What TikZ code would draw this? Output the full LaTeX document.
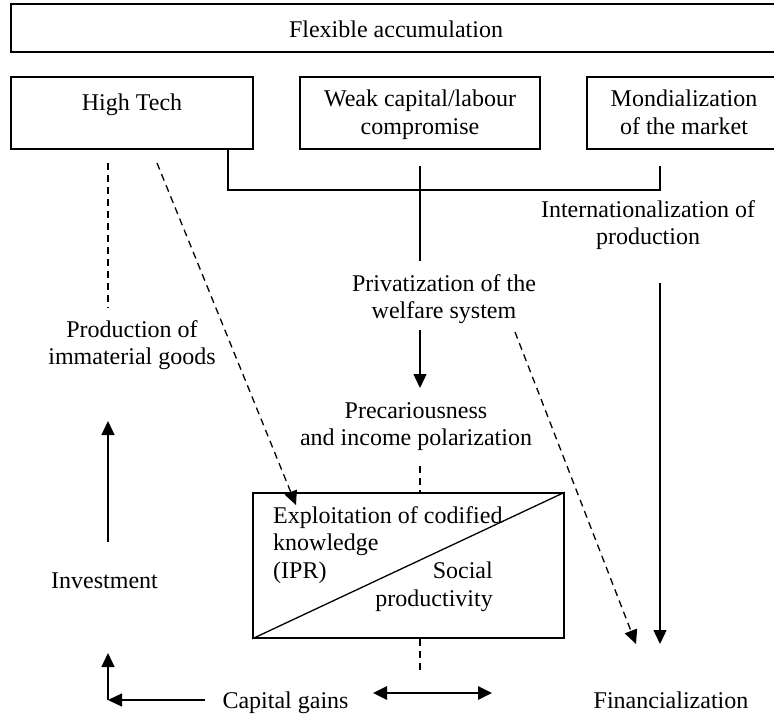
\documentclass[tikz,border=0pt]{standalone}
\usepackage{fontspec}
\setmainfont{Liberation Serif}
\usetikzlibrary{arrows.meta}
\newcommand{\lstrut}{\rule[-7.5pt]{0pt}{27.5pt}}
\tikzset{
	frame/.style={draw, line width=1.6pt, inner sep=0pt},
	txt/.style={inner sep=0pt, font=\fontsize{24}{27.5}\selectfont, execute at begin node=\lstrut, execute at end node=\lstrut},
	link/.style={line width=1.3pt},
	dash link/.style={line width=1.3pt, dash pattern=on 7pt off 5pt},
	headed/.style={-{Triangle[length=14pt,width=13pt]}},
}
\begin{document}
\begin{tikzpicture}[x=1pt, y=-1pt, line join=miter]
	\useasboundingbox (0,0) rectangle (774,718);
	
	% boxes
	\node[frame, minimum width=765pt, minimum height=48pt] (flex) at (393.5,28) {};
	\node[frame, minimum width=242pt, minimum height=72pt] (tech) at (132,113) {};
	\node[frame, minimum width=240pt, minimum height=72pt] (weak) at (420,113) {};
	\node[frame, minimum width=189pt, minimum height=72pt] (mond) at (681.5,113) {};
	\node[frame, minimum width=311pt, minimum height=145pt] (core) at (408.5,565.5) {};
	
	% texts
	\node[txt, anchor=north] (flextxt) at (396,17) {Flexible accumulation};
	\node[txt, anchor=north] (techtxt) at (132,90) {High Tech};
	\node[txt, anchor=north, align=center] (weaktxt) at (420,90) {Weak capital/labour\\compromise};
	\node[txt, anchor=north, align=center] (mondtxt) at (684,90) {Mondialization\\of the market};
	\node[txt, anchor=north, align=center] (interntxt) at (648,200) {Internationalization of\\production};
	\node[txt, anchor=north, align=center] (privtxt) at (444,274) {Privatization of the\\welfare system};
	\node[txt, anchor=north, align=center] (prodtxt) at (132,320) {Production of\\immaterial goods};
	\node[txt, anchor=north, align=center] (prectxt) at (416,402) {Precariousness\\and income polarization};
	\node[txt, anchor=north west, align=left] (exptxt) at (273,506) {Exploitation of codified\\knowledge\\(IPR)};
	\node[txt, anchor=north east, align=right] (soctxt) at (493,562) {Social\\productivity};
	\node[txt, anchor=north] (invtxt) at (104.5,568) {Investment};
	\node[txt, anchor=north] (gainstxt) at (285.5,688) {Capital gains};
	\node[txt, anchor=north] (fintxt) at (671,688) {Financialization};
	
	% free ends
	\coordinate (brL) at (228,190);
	\coordinate (brR) at (660,190);
	\coordinate (brRtop) at (660,166);
	\coordinate (midtop) at (420,166);
	\coordinate (midend) at (420,261);
	\coordinate (techleft) at (108,163);
	\coordinate (prodtop) at (108,308);
	\coordinate (techdash) at (157,163);
	\coordinate (coredash) at (296,505);
	\coordinate (welfdash) at (515,332);
	\coordinate (findash) at (636,644);
	\coordinate (invlow) at (108,542);
	\coordinate (prodlow) at (108,421);
	\coordinate (stubtop) at (420,466);
	\coordinate (stubbot) at (420,670);
	\coordinate (gainsL) at (205,700);
	\coordinate (corner) at (108,700);
	\coordinate (invtip) at (108,653);
	\coordinate (dblL) at (373,693);
	\coordinate (dblR) at (492,693);
	
	% connectors
	\draw[link] (tech.south -| brL) -- (brL) -- (brR) -- (brRtop);
	\draw[link] (midtop) -- (midend);
	\draw[link, headed, shorten <=4pt, shorten >=14pt] (privtxt.south -| midend) -- (prectxt.north -| midend);
	\draw[link, headed, shorten <=30.5pt, shorten >=44pt] (interntxt.south -| brR) -- (fintxt.north -| brR);
	\draw[dash link] (techleft) -- (prodtop);
	\draw[dash link, headed] (techdash) -- (coredash);
	\draw[dash link, headed] (welfdash) -- (findash);
	\draw[link, headed] (invlow) -- (prodlow);
	\draw[dash link] (stubtop) -- (stubtop |- core.north);
	\draw[dash link] (core.south -| stubtop) -- (stubbot);
	\draw[link] (core.south west) -- (core.north east);
	\draw[link, headed] (gainsL) -- (corner);
	\draw[link, headed] (corner) -- (invtip);
	\draw[line width=2.8pt, {Triangle[length=14pt,width=13pt]}-{Triangle[length=14pt,width=13pt]}] (dblL) -- (dblR);
	
\end{tikzpicture}
\end{document}
